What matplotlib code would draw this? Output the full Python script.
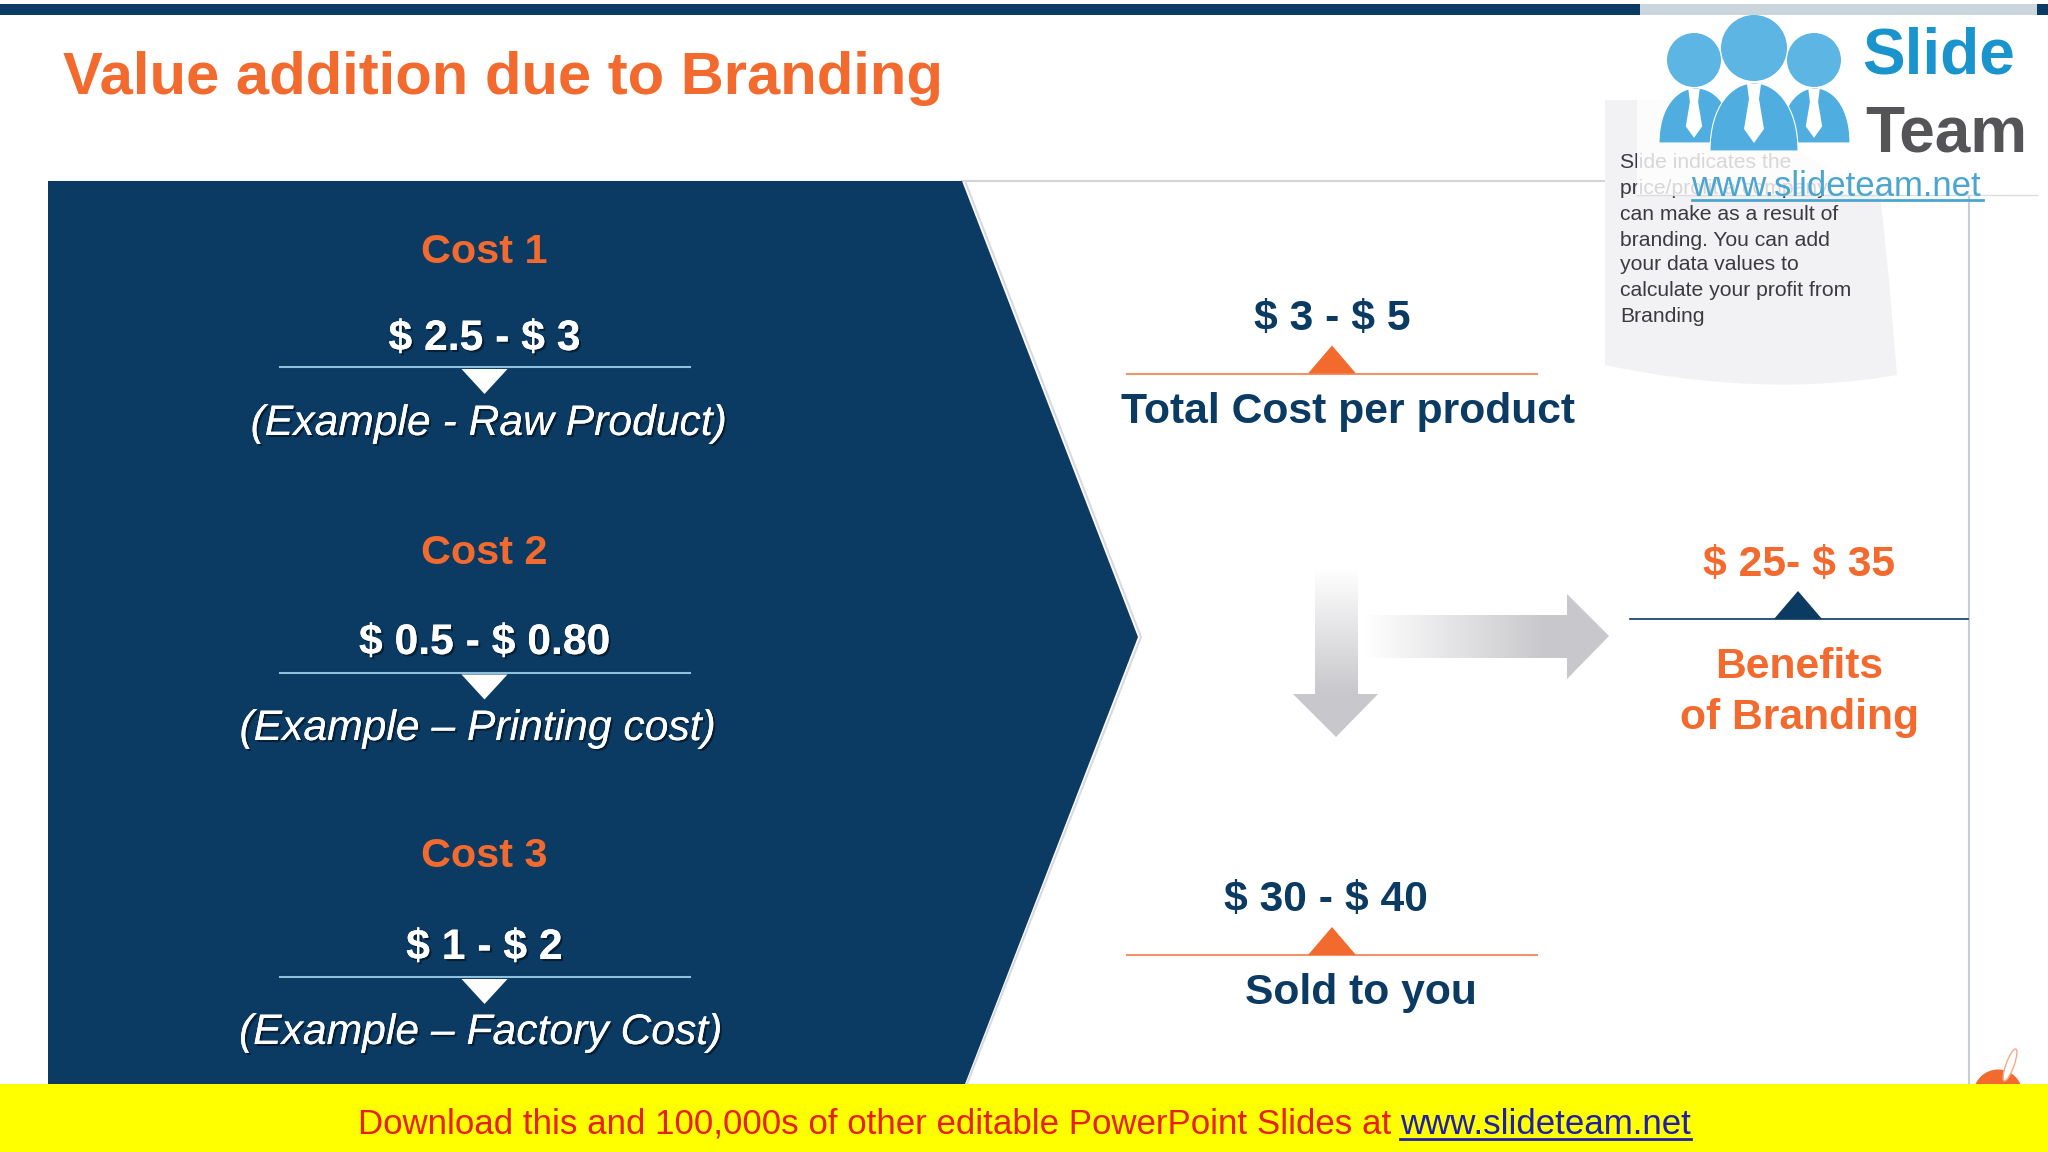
import numpy as np
import matplotlib
matplotlib.use("Agg")
import matplotlib.pyplot as plt
from matplotlib.patches import Polygon, Circle, Ellipse, Rectangle, PathPatch
from matplotlib.path import Path
import matplotlib.patheffects as pe

plt.rcParams['font.family'] = ['Liberation Sans', 'DejaVu Sans']
plt.rcParams['text.parse_math'] = False

NAVY = '#0B3A62'
ORANGE = '#F26A2E'
title = 'Value addition due to Branding'
cost_names = ['Cost 1', 'Cost 2', 'Cost 3']
cost_ranges = ['$ 2.5 - $ 3', '$ 0.5 - $ 0.80', '$ 1 - $ 2']
cost_examples = ['(Example - Raw Product)', '(Example – Printing cost)', '(Example – Factory Cost)']
total_range = '$ 3 - $ 5'
total_label = 'Total Cost per product'
sold_range = '$ 30 - $ 40'
sold_label = 'Sold to you'
benefit_range = '$ 25- $ 35'
benefit_label = ['Benefits', 'of Branding']
note_lines = ['Slide indicates the', 'price/profit a company', 'can make as a result of', 'branding. You can add',
              'your data values to', 'calculate your profit from', 'Branding']
banner_text = 'Download this and 100,000s of other editable PowerPoint Slides at '
banner_link = 'www.slideteam.net'

fig = plt.figure(figsize=(20.48, 11.52), dpi=100, facecolor='white')
ax = fig.add_axes([0, 0, 1, 1])
ax.set_xlim(0, 2048)
ax.set_ylim(1152, 0)
ax.axis('off')


def T(x, y, s, size=30.7, color=NAVY, weight='bold', style='normal', ha='center', z=5, shadow=False):
    t = ax.text(x, y + 4, s, fontsize=size, color=color, weight=weight, style=style, ha=ha, va='center', zorder=z)
    if shadow:
        t.set_path_effects([pe.withSimplePatchShadow(offset=(1.5, -1.5), shadow_rgbFace='#000000', alpha=0.45),
                            pe.Normal()])
    return t


def gradient(extent, clip_xy, vertical, z=3):
    ramp = np.linspace(0, 1, 256)
    ramp = np.clip(ramp * 1.35, 0, 1)
    c0, c1 = np.array([1, 1, 1.0]), np.array([0.784, 0.784, 0.80])
    img = c0[None, :] + ramp[:, None] * (c1 - c0)[None, :]
    img = img[:, None, :] if vertical else img[None, :, :]
    im = ax.imshow(img, extent=extent, aspect='auto', zorder=z, interpolation='bilinear')
    poly = Polygon(clip_xy, closed=True, transform=ax.transData, facecolor='none', edgecolor='none')
    ax.add_patch(poly)
    im.set_clip_path(poly)


# top bar
ax.add_patch(Rectangle((0, 4), 1640, 11, color=NAVY, lw=0))
ax.add_patch(Rectangle((1640, 4), 397, 11, color='#CBD5DC', lw=0))
ax.add_patch(Rectangle((2037, 4), 11, 11, color=NAVY, lw=0))

T(63, 74, title, size=43, color=ORANGE, ha='left')

# frame lines
ax.plot([962, 1637], [181, 181], color='#D4D4D8', lw=1.5, zorder=1)
ax.plot([1969, 1969], [195, 1084], color='#C9CDD6', lw=1.5, zorder=1)
ax.plot([965, 1141, 967], [181, 637, 1084], color='#DADADE', lw=1.5, zorder=1)

# chevron
ax.add_patch(Polygon([(48, 181), (962, 181), (1138, 637), (965, 1084), (48, 1084)], color=NAVY, lw=0, zorder=2))

# cost blocks
name_y, range_y, line_y, ex_y = [248, 549, 852], [335, 639, 944], [367, 672.5, 977], [420, 725, 1029]
ex_x = [489, 478, 481]
for i in range(3):
    T(484.5, name_y[i], cost_names[i], size=29.8, color=ORANGE)
    T(484.5, range_y[i], cost_ranges[i], color='white', shadow=True)
    ax.plot([279.5, 690], [line_y[i]] * 2, color='#8FC0DE', lw=1.5, zorder=3)
    ax.add_patch(Polygon([(461.5, line_y[i] + 2), (507.5, line_y[i] + 2), (484.5, line_y[i] + 27)], color='white', lw=0, zorder=4))
    T(ex_x[i], ex_y[i], cost_examples[i], color='white', weight='normal', style='italic', shadow=True)

# right blocks
for ly, vy, lby, vx, lbx, vs, ls in [(373.5, 315, 408, 1332, 1348, total_range, total_label),
                                      (955, 896, 989, 1326, 1361, sold_range, sold_label)]:
    ax.plot([1127, 1537], [ly, ly], color='#F3916A', lw=1.5, zorder=3)
    ax.add_patch(Polygon([(1308, ly), (1356, ly), (1332, ly - 28)], color=ORANGE, lw=0, zorder=4))
    T(vx, vy, vs)
    T(lbx, lby, ls)

ax.plot([1630, 1968], [619, 619], color=NAVY, lw=1.2, zorder=3)
ax.add_patch(Polygon([(1774, 619), (1822, 619), (1798, 591)], color=NAVY, lw=0, zorder=4))
T(1799, 561, benefit_range, color=ORANGE)
T(1799, 663, benefit_label[0], color=ORANGE)
T(1799, 714, benefit_label[1], color=ORANGE)

# arrows
gradient((1365, 1609, 680, 594), [(1365, 615), (1567, 615), (1567, 594), (1609, 636), (1567, 679), (1567, 658), (1365, 658)], False)
gradient((1293, 1378, 737, 569), [(1315, 569), (1358, 569), (1358, 694), (1378, 694), (1336, 737), (1293, 694), (1315, 694)], True)

# note
verts = [(1605, 100), (1700, 100), (1880, 195), (1890, 280), (1893, 330), (1897, 375), (1800, 392), (1700, 385), (1605, 365), (1605, 100)]
codes = [Path.MOVETO, Path.LINETO, Path.LINETO, Path.CURVE4, Path.CURVE4, Path.CURVE4, Path.CURVE4, Path.CURVE4, Path.CURVE4, Path.CLOSEPOLY]
ax.add_patch(PathPatch(Path(verts, codes), facecolor='#F2F2F4', edgecolor='none', zorder=2))
for y, s in zip([159, 185, 210, 236, 261, 287, 312], note_lines):
    T(1620, y, s, size=15.2, color='#3A3A40', weight='normal', ha='left', z=3)

# logo veil
ax.add_patch(Rectangle((1637, 15), 400, 180, facecolor='white', alpha=0.8, edgecolor='none', zorder=6))
ax.plot([1637, 2037], [195, 195], color='#DDDDDD', lw=1, zorder=6)
LB = '#4FAEDF'
for cx, cy, r, x0, x1, top, bot in [(1694, 60, 27, 1659, 1733, 88, 143), (1814, 60, 27, 1780, 1850, 88, 143),
                                    (1754, 48, 33, 1710, 1798, 83, 151)]:
    ax.add_patch(Circle((cx, cy), r, color='#5DB5E4', lw=0, zorder=7))
    mid = (x0 + x1) / 2
    ctrl = bot - (bot - top) / 0.75
    body = Path([(x0, bot), (x0, ctrl), (x1, ctrl), (x1, bot), (x0, bot)],
                [Path.MOVETO, Path.CURVE4, Path.CURVE4, Path.CURVE4, Path.CLOSEPOLY])
    ax.add_patch(PathPatch(body, facecolor=LB, edgecolor='white', lw=0.8, zorder=7))
    s = r / 33
    tx = mid if r > 30 else cx
    ty = top + 4
    ax.add_patch(Polygon([(tx - 7 * s, ty - 3), (tx + 7 * s, ty - 3), (tx + 5 * s, ty + 12 * s), (tx + 10 * s, ty + 42 * s),
                          (tx, ty + 56 * s), (tx - 10 * s, ty + 42 * s), (tx - 5 * s, ty + 12 * s)],
                         color='white', lw=0, zorder=8))
T(1939, 52, 'Slide', size=46, color='#1A94CC', z=8)
T(1946, 130, 'Team', size=46, color='#555558', z=8)
T(1836, 183, 'www.slideteam.net', size=25, color='#4AA6D0', weight='normal', z=8)
ax.plot([1692, 1983], [200, 200], color='#4AA6D0', lw=2, zorder=8)

# tag
ax.add_patch(Circle((1998, 1094), 24.5, color=ORANGE, lw=0, zorder=2))
ax.add_patch(Ellipse((2010, 1065), 8, 34, angle=20, facecolor='white', edgecolor='#F3A98C', lw=1, zorder=3))

# banner
ax.add_patch(Rectangle((0, 1084), 2048, 68, color='#FFFF00', lw=0, zorder=9))
T(358, 1120.5, banner_text, size=25.1, color='#E8200F', weight='normal', ha='left', z=10)
T(1400, 1120.5, banner_link, size=25.1, color='#1F1FA8', weight='normal', ha='left', z=10)
ax.plot([1400, 1691], [1139, 1139], color='#1F1FA8', lw=2, zorder=10)

ax.set_xlim(0, 2048)
ax.set_ylim(1152, 0)
fig.savefig('out.png', dpi=100)
